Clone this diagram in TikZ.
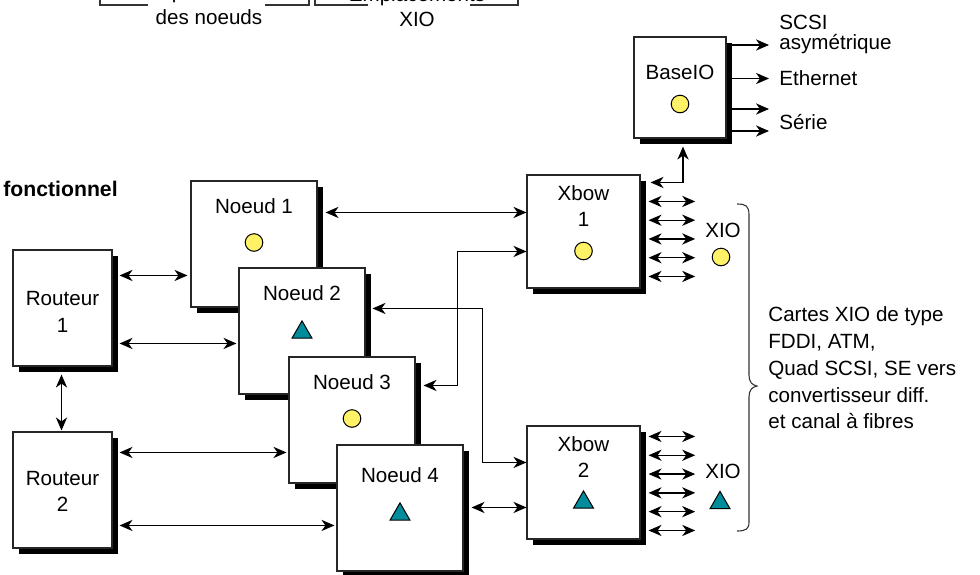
\documentclass[tikz,border=0pt]{standalone}
\usepackage{fontspec}
\setmainfont{Liberation Sans}
\usetikzlibrary{arrows.meta,calc,shapes.geometric}
\definecolor{dotyellow}{RGB}{255,242,102}
\definecolor{triteal}{RGB}{0,140,155}
\tikzset{arr/.style={-{Stealth[length=6.5pt,width=5.6pt,inset=2pt]}, line width=0.65pt},
  dbl/.style={{Stealth[length=6.5pt,width=5.6pt,inset=2pt]}-{Stealth[length=6.5pt,width=5.6pt,inset=2pt]}, line width=0.65pt},
  box/.style={draw=black!85, line width=0.55pt, fill=white},
  shd/.style={fill=black, draw=none},
  nbox/.style={minimum width=63pt, minimum height=63pt, inner sep=0pt},
  rbox/.style={minimum width=49.5pt, minimum height=58pt, inner sep=0pt},
  xbox/.style={minimum width=56.5pt, minimum height=56.5pt, inner sep=0pt},
  iobox/.style={minimum width=46pt, minimum height=50.5pt, inner sep=0pt},
  ydot/.style={circle, draw, line width=0.5pt, fill=dotyellow, minimum size=8.8pt, inner sep=0pt},
  tri/.style={regular polygon, regular polygon sides=3, draw, line width=0.5pt, fill=triteal,
    minimum size=11.5pt, inner sep=0pt, yshift=-1.44pt},
  outlbl/.style={anchor=west, inner xsep=5pt, align=left},
  legend/.style={line width=0.55pt, draw=black!80}}
% box with its black shadow, lower right
\newcommand{\dropbox}[3]{\node[#1, shd] (#2sh) at ($#3+(6,6)$) {};
  \node[#1, box] (#2) at #3 {};}
% board with its title and its mark
\newcommand{\nodecard}[5]{\dropbox{nbox}{#1}{#2}
  \node (#1t) at ($(#1.north)+(0,26+#5)$) {#3};
  \node[#4] (#1s) at ($(#1.center)+(0,-1.5+#5)$) {};}

\begin{document}
\begin{tikzpicture}[x=0.5pt, y=-0.5pt, font=\fontsize{10.3}{13.35}\selectfont]
  \useasboundingbox (0,0) rectangle (980,574);
  % legend boxes, cut by the top edge
  \draw[legend] (100,-10) -- (100,5) -- (148,5) (265,5) -- (309,5) -- (309,-10);
  \draw[legend] (315,-10) -- (315,5) -- (368,5) (470,5) -- (518,5) -- (518,-10);
  \node (leg1a) at (209,-7) {Emplacements};
  \node (leg1b) at (209,17.5) {des noeuds};
  \node (leg2a) at (417,-4) {Emplacements};
  \node (leg2b) at (417,19) {XIO};
  \node[anchor=west, inner sep=0pt, font=\bfseries\fontsize{10.6}{13}\selectfont] (titre) at (3,189) {fonctionnel};
  % routers
  \dropbox{rbox}{r1}{(62.5,308)}
  \node[align=center] (r1t) at ($(r1.center)+(0,4)$) {Routeur\\1};
  \dropbox{rbox}{r2}{(62.5,490)}
  \node[align=center] (r2t) at ($(r2.center)+(0,1.5)$) {Routeur\\2};
  % node boards, each over the one before
  \nodecard{n1}{(254,244)}{Noeud 1}{ydot}{0}
  \nodecard{n2}{(302,331)}{Noeud 2}{tri}{0}
  \nodecard{n3}{(352,420)}{Noeud 3}{ydot}{0}
  \nodecard{n4}{(400,508)}{Noeud 4}{tri}{5}
  % crossbows
  \dropbox{xbox}{x1}{(583.5,231.5)}
  \node[align=center] (x1t) at ($(x1.north)+(0,31.5)$) {Xbow\\1};
  \node[ydot] (x1s) at ($(x1.center)+(0,19.5)$) {};
  \dropbox{xbox}{x2}{(583.5,482.5)}
  \node[align=center] (x2t) at ($(x2.north)+(0,31.5)$) {Xbow\\2};
  \node[tri] (x2s) at ($(x2.center)+(0,17)$) {};
  % BaseIO and its ports
  \dropbox{iobox}{io}{(680,87.5)}
  \node (iot) at ($(io.north)+(0,36)$) {BaseIO};
  \node[ydot] (ios) at ($(io.center)+(0,16.5)$) {};
  \node[outlbl, font=\fontsize{10.3}{10}\selectfont] (scsi) at (769,34) {SCSI\\asymétrique};
  \node[outlbl] (eth) at (769,78.5) {Ethernet};
  \node[outlbl] (ser) at (769,122.5) {Série};
  \draw[arr] ($(io.east |- scsi.west)+(5,11)$) -- ($(scsi.west)+(0,11)$);
  \draw[arr] ($(io.east |- eth.west)+(5,0)$) -- (eth.west);
  \draw[arr] ($(io.east |- ser.west)+(5,-13.5)$) -- ($(ser.west)+(0,-13.5)$);
  \draw[arr] ($(io.east |- ser.west)+(5,8.5)$) -- ($(ser.west)+(0,8.5)$);
  % router links
  \draw[dbl] ($(r1.north east)+(7,26)$) -- ($(n1.north west)+(-3,95)$);
  \draw[dbl] ($(r1.north east)+(7,94)$) -- ($(n2.north west)+(-2,76)$);
  \draw[dbl] ($(r2.north east)+(7,21)$) -- ($(n3.north west)+(-2,96)$);
  \draw[dbl] ($(r2.north east)+(7,94)$) -- ($(n4.north west)+(-2,81)$);
  \draw[dbl] ($(r1.south)+(-1,8)$) -- ($(r2.north)+(-1,-1)$);
  % node to crossbow links
  \draw[dbl] ($(n1.north east)+(8,32)$) -- ($(x1.north west)+(0,38)$);
  \draw[dbl] ($(n2.north east)+(7,41)$) -| ($(x2.north west)+(-44,37)$) -- ($(x2.north west)+(0,37)$);
  \draw[dbl] ($(n3.north east)+(8,29)$) -| ($(x1.north west)+(-69,77)$) -- ($(x1.north west)+(0,77)$);
  \draw[dbl] ($(n4.north east)+(8,63)$) -- ($(x2.north west)+(0,82)$);
  \draw[dbl] ($(x1.north east)+(10,8)$) -| ($(io.south)+(3,8)$);
  % XIO slots
  \node (xio1) at (723,230.5) {XIO};
  \node[ydot] (xio1s) at (721,257) {};
  \node (xio2) at (723,471) {XIO};
  \node[tri] (xio2s) at (720,500) {};
  \foreach \k in {0,...,4}
    \draw[dbl] ($(x1.north east)+(8,27+18.75*\k)$) -- ($(xio1.west |- x1.north)+(-3,27+18.75*\k)$);
  \foreach \k in {0,...,5}
    \draw[dbl] ($(x2.north east)+(8,11+18.8*\k)$) -- ($(xio2.west |- x2.north)+(-3,11+18.8*\k)$);
  % brace and card list
  \draw[legend] (737,204) .. controls (746,204) and (749,206) .. (749,215) -- (749,375)
    .. controls (749,382) and (752,385) .. (757,386) .. controls (752,387) and (749,390) .. (749,397)
    -- (749,522) .. controls (749,529) and (746,531) .. (737,531);
  \node[anchor=west, align=left, inner sep=0pt] (cartes) at (768,368) {Cartes XIO de type\\FDDI, ATM,\\Quad SCSI, SE vers\\convertisseur diff.\\et canal à fibres};
\end{tikzpicture}
\end{document}
